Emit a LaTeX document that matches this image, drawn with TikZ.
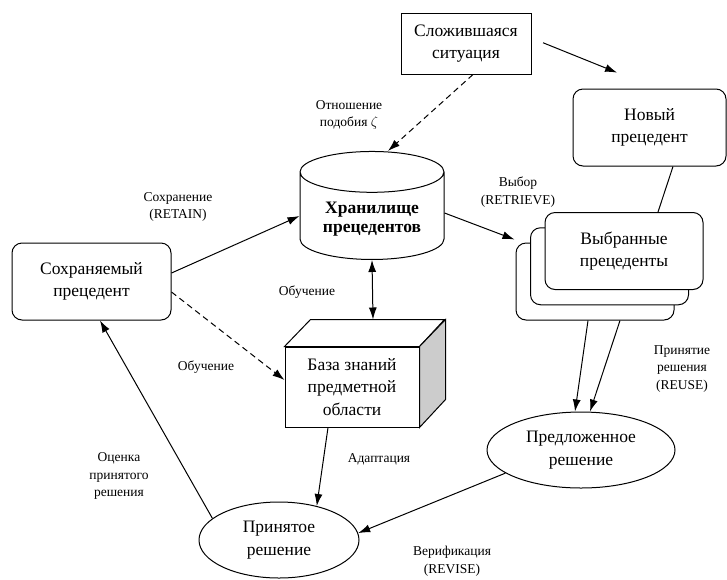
\documentclass[tikz,border=0pt]{standalone}
\usepackage{fontspec}
\setmainfont{Liberation Serif}
\usepackage{tikz}
\usetikzlibrary{arrows.meta}
\usetikzlibrary{shapes.geometric}

\begin{document}
\begin{tikzpicture}[x=1pt,y=-1pt,line width=1pt,
  txt/.style={font=\fontsize{17.5}{22.5}\selectfont,align=center},
  lbl/.style={font=\fontsize{13.5}{17.5}\selectfont,align=center},
  rbox/.style={txt,draw,rounded corners=10pt,minimum width=158pt,minimum height=77pt,fill=white},
  oval/.style={txt,draw,ellipse,inner sep=0pt,minimum height=76pt},
  arr/.style={-{Latex[length=12pt,width=8pt]}},
  dashline/.style={dash pattern=on 6pt off 4pt}]
\useasboundingbox (0,0) rectangle (727,579);

% nodes
\node[txt,draw,minimum width=130pt,minimum height=61pt] (sit) at (466,43.5) {Сложившаяся\\ситуация};
\node[rbox,minimum width=153pt] (new) at (649.5,127.5) {Новый\\прецедент};
\node[txt,draw,cylinder,shape border rotate=90,aspect=0.39,minimum width=144pt,minimum height=108pt,font=\fontsize{17.5}{19}\selectfont\bfseries] (store) at (372,219) {Хранилище\\прецедентов};
\node[rbox,minimum width=159pt] (keep) at (91.5,281.5) {Сохраняемый\\прецедент};
\foreach \i/\k in {3/0,2/1}
  \node[rbox] (sel\i) at ({595+14.5*\k},{281.5-15.25*\k}) {};
\node[rbox] (sel) at (624,251) {Выбранные\\прецеденты};
\node[txt,draw,fill=white,minimum width=134pt,minimum height=80pt] (base) at (352,387) {База знаний\\предметной\\области};
\draw (base.north west) -- ++(26,-27) -- ++(134,0) -- (base.north east) -- cycle;
\draw[fill=gray!40] (base.north east) -- ++(26,-27) -- ++(0,80) -- (base.south east) -- cycle;
\node[oval,minimum width=188pt] (prop) at (581,450) {Предложенное\\решение};
\node[oval,minimum width=160pt] (acc) at (279,540) {Принятое\\решение};

% labels
\node[lbl] (lsim) at (349,115) {Отношение\\подобия $\zeta$};
\node[lbl] (lret) at (178,207) {Сохранение\\(RETAIN)};
\node[lbl] (lretr) at (518,192) {Выбор\\(RETRIEVE)};
\node[lbl] (lreuse) at (682,369) {Принятие\\решения\\(REUSE)};
\node[lbl] (llearn) at (307,292) {Обучение};
\node[lbl] (llearnb) at (206,367) {Обучение};
\node[lbl] (ladapt) at (379,459) {Адаптация};
\node[lbl] (leval) at (119,476) {Оценка\\принятого\\решения};
\node[lbl] (lrev) at (452,561) {Верификация\\(REVISE)};

% connectors
\draw[arr,shorten <=12.5pt,shorten >=42.5pt] ([yshift=5.4pt]sit.east) -- ([xshift=7pt]new.north);
\draw[arr,dashline] ([xshift=7pt]sit.south) -- ([xshift=16pt]store.north);
\draw[arr] ([yshift=8.5pt]keep.east) -- ([yshift=3pt]store.west);
\draw[arr] ([yshift=6pt]store.east) -- ([shift={(-1pt,3pt)}]sel3.north west);
\draw ([xshift=23.5pt]new.south) -- ([xshift=34pt]sel.north);
\draw[arr] ([xshift=-7pt]sel3.south) -- ([xshift=-6pt]prop.north);
\draw[arr] ([xshift=25pt]sel3.south) -- ([xshift=9pt]prop.north);
\draw[arr] (prop.197) -- (acc.5);
\draw[arr] ([xshift=-24pt]base.south) -- (acc.42);
\draw[arr] (acc.162) -- ([xshift=8.5pt]keep.south);
\draw[arr,dashline] ([yshift=-10.5pt]keep.east) -- ([yshift=7pt]base.west);
\draw[{Latex[length=12pt,width=8pt]}-{Latex[length=12pt,width=8pt]}] (store.south) -- ([shift={(21pt,27pt)}]base.north);
\end{tikzpicture}
\end{document}
